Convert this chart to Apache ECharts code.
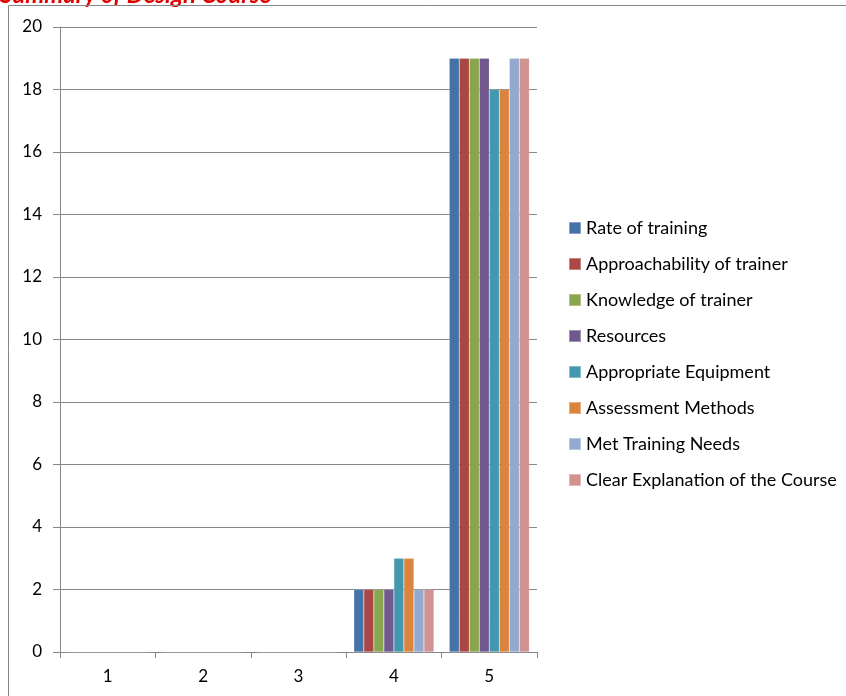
<!DOCTYPE html>
<html>
<head>
<meta charset="utf-8">
<script src="https://cdn.jsdelivr.net/npm/echarts@6/dist/echarts.min.js"></script>
<style>
html,body{margin:0;padding:0;background:#fff;}
#chart{width:846px;height:696px;}
</style>
</head>
<body>
<div id="chart"></div>
<script>
const titleText = 'Summary of Design Course';
const categories = ['1', '2', '3', '4', '5'];
const seriesNames = ['Rate of training', 'Approachability of trainer', 'Knowledge of trainer', 'Resources', 'Appropriate Equipment', 'Assessment Methods', 'Met Training Needs', 'Clear Explanation of the Course'];
const rateOfTraining = [0, 0, 0, 2, 19];
const approachability = [0, 0, 0, 2, 19];
const knowledge = [0, 0, 0, 2, 19];
const resources = [0, 0, 0, 2, 19];
const equipment = [0, 0, 0, 3, 18];
const assessment = [0, 0, 0, 3, 18];
const trainingNeeds = [0, 0, 0, 2, 19];
const explanation = [0, 0, 0, 2, 19];
const seriesColors = ['#4572A7', '#AA4643', '#89A54E', '#71588F', '#4198AF', '#DB843D', '#93A9CF', '#D19392'];

const allData = [rateOfTraining, approachability, knowledge, resources, equipment, assessment, trainingNeeds, explanation];
const font = 'Lato, "Open Sans", sans-serif';

const chart = echarts.init(document.getElementById('chart'), null, {renderer: 'canvas'});
chart.setOption({
  animation: false,
  backgroundColor: '#fff',
  color: seriesColors,
  graphic: [
    {type: 'rect', z: 10, shape: {x: 8.5, y: 5.5, width: 900, height: 800}, style: {fill: 'none', stroke: '#868686', lineWidth: 1}, silent: true},
    {type: 'text', z: 5, style: {x: 0, y: -5, text: titleText, fill: '#E00000', font: 'italic bold 24px ' + font, verticalAlign: 'middle'}, silent: true}
  ],
  grid: {left: 60, right: 309, top: 27, bottom: 44, containLabel: false},
  legend: {
    orient: 'vertical', left: 568, top: 219, padding: 0,
    itemWidth: 12, itemHeight: 12, itemGap: 18, icon: 'rect',
    textStyle: {fontFamily: font, fontSize: 18, color: '#000'},
    data: seriesNames
  },
  xAxis: {
    type: 'category', data: categories,
    axisLine: {lineStyle: {color: '#868686'}},
    axisTick: {show: true, length: 6, lineStyle: {color: '#868686'}},
    axisLabel: {fontFamily: font, fontSize: 17, color: '#000', margin: 16}
  },
  yAxis: {
    type: 'value', min: 0, max: 20, interval: 2,
    axisLine: {show: true, lineStyle: {color: '#868686'}},
    axisTick: {show: true, length: 7, lineStyle: {color: '#868686'}},
    splitLine: {show: true, lineStyle: {color: '#868686'}},
    axisLabel: {fontFamily: font, fontSize: 17, color: '#000', margin: 18}
  },
  series: seriesNames.map((n, i) => ({
    name: n, type: 'bar', data: allData[i],
    barGap: '0%', barCategoryGap: '16%',
    itemStyle: {color: seriesColors[i], borderColor: 'rgba(255,255,255,0.35)', borderWidth: 0.5}
  }))
});
</script>
</body>
</html>
